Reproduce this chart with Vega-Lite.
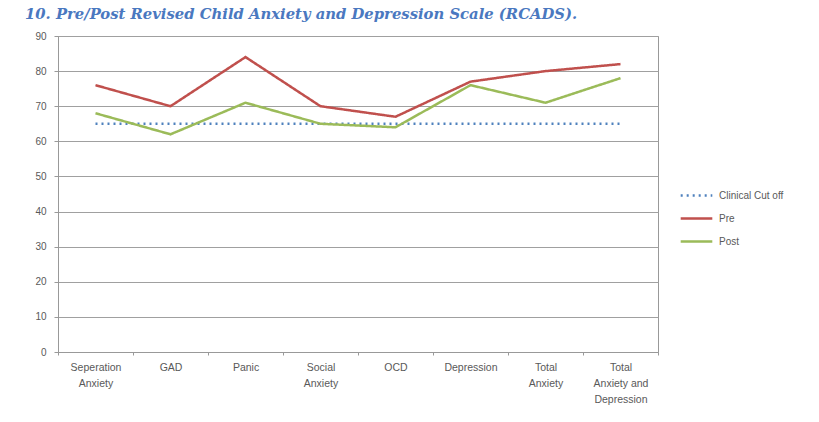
{
  "$schema": "https://vega.github.io/schema/vega-lite/v6.json",
  "width": 600,
  "height": 316,
  "autosize": {"type": "none"},
  "padding": {"left": 58, "top": 36, "right": 161, "bottom": 70},
  "background": "white",
  "title": {
    "text": "10. Pre/Post Revised Child Anxiety and Depression Scale (RCADS).",
    "anchor": "start",
    "frame": "group",
    "dx": -33,
    "offset": 9,
    "font": "DejaVu Serif",
    "fontSize": 14.8,
    "fontStyle": "italic",
    "fontWeight": "bold",
    "color": "#4a78c0"
  },
  "data": {
    "values": [
      {"category": "Seperation Anxiety", "series": "Clinical Cut off", "value": 65},
      {"category": "GAD", "series": "Clinical Cut off", "value": 65},
      {"category": "Panic", "series": "Clinical Cut off", "value": 65},
      {"category": "Social Anxiety", "series": "Clinical Cut off", "value": 65},
      {"category": "OCD", "series": "Clinical Cut off", "value": 65},
      {"category": "Depression", "series": "Clinical Cut off", "value": 65},
      {"category": "Total Anxiety", "series": "Clinical Cut off", "value": 65},
      {"category": "Total Anxiety and Depression", "series": "Clinical Cut off", "value": 65},
      {"category": "Seperation Anxiety", "series": "Pre", "value": 76},
      {"category": "GAD", "series": "Pre", "value": 70},
      {"category": "Panic", "series": "Pre", "value": 84},
      {"category": "Social Anxiety", "series": "Pre", "value": 70},
      {"category": "OCD", "series": "Pre", "value": 67},
      {"category": "Depression", "series": "Pre", "value": 77},
      {"category": "Total Anxiety", "series": "Pre", "value": 80},
      {"category": "Total Anxiety and Depression", "series": "Pre", "value": 82},
      {"category": "Seperation Anxiety", "series": "Post", "value": 68},
      {"category": "GAD", "series": "Post", "value": 62},
      {"category": "Panic", "series": "Post", "value": 71},
      {"category": "Social Anxiety", "series": "Post", "value": 65},
      {"category": "OCD", "series": "Post", "value": 64},
      {"category": "Depression", "series": "Post", "value": 76},
      {"category": "Total Anxiety", "series": "Post", "value": 71},
      {"category": "Total Anxiety and Depression", "series": "Post", "value": 78}
    ]
  },
  "mark": {"type": "line", "strokeWidth": 2.5},
  "encoding": {
    "x": {
      "field": "category",
      "type": "ordinal",
      "sort": null,
      "scale": {"type": "band", "paddingInner": 0, "paddingOuter": 0},
      "axis": {
        "title": null,
        "labelAngle": 0,
        "tickBand": "extent",
        "tickSize": 3,
        "tickColor": "#999999",
        "domainColor": "#999999",
        "labelColor": "#595959",
        "labelFont": "Liberation Sans",
        "labelFontSize": 10.5,
        "labelLineHeight": 16,
        "labelPadding": 7,
        "labelExpr": "datum.label == 'Seperation Anxiety' ? ['Seperation', 'Anxiety'] : datum.label == 'Social Anxiety' ? ['Social', 'Anxiety'] : datum.label == 'Total Anxiety' ? ['Total', 'Anxiety'] : datum.label == 'Total Anxiety and Depression' ? ['Total', 'Anxiety and', 'Depression'] : datum.label"
      }
    },
    "y": {
      "field": "value",
      "type": "quantitative",
      "scale": {"domain": [0, 90]},
      "axis": {
        "title": null,
        "values": [0, 10, 20, 30, 40, 50, 60, 70, 80, 90],
        "grid": true,
        "gridColor": "#a0a0a0",
        "tickSize": 4,
        "tickColor": "#999999",
        "domainColor": "#999999",
        "labelColor": "#595959",
        "labelFont": "Liberation Sans",
        "labelFontSize": 10,
        "labelPadding": 8
      }
    },
    "color": {
      "field": "series",
      "type": "nominal",
      "scale": {"domain": ["Clinical Cut off", "Pre", "Post"], "range": ["#4f81bd", "#c0504d", "#9bbb59"]},
      "legend": {
        "title": null,
        "orient": "none",
        "legendX": 621,
        "legendY": 142,
        "symbolType": "stroke",
        "symbolSize": 1000,
        "symbolStrokeWidth": 2.5,
        "labelColor": "#595959",
        "labelFont": "Liberation Sans",
        "labelFontSize": 10,
        "rowPadding": 0,
        "labelOffset": 5
      }
    },
    "strokeDash": {
      "field": "series",
      "type": "nominal",
      "scale": {"domain": ["Clinical Cut off", "Pre", "Post"], "range": [[2, 4], [1, 0], [1, 0]]},
      "legend": null
    }
  },
  "config": {
    "view": {"stroke": "#999999", "strokeWidth": 1}
  }
}
